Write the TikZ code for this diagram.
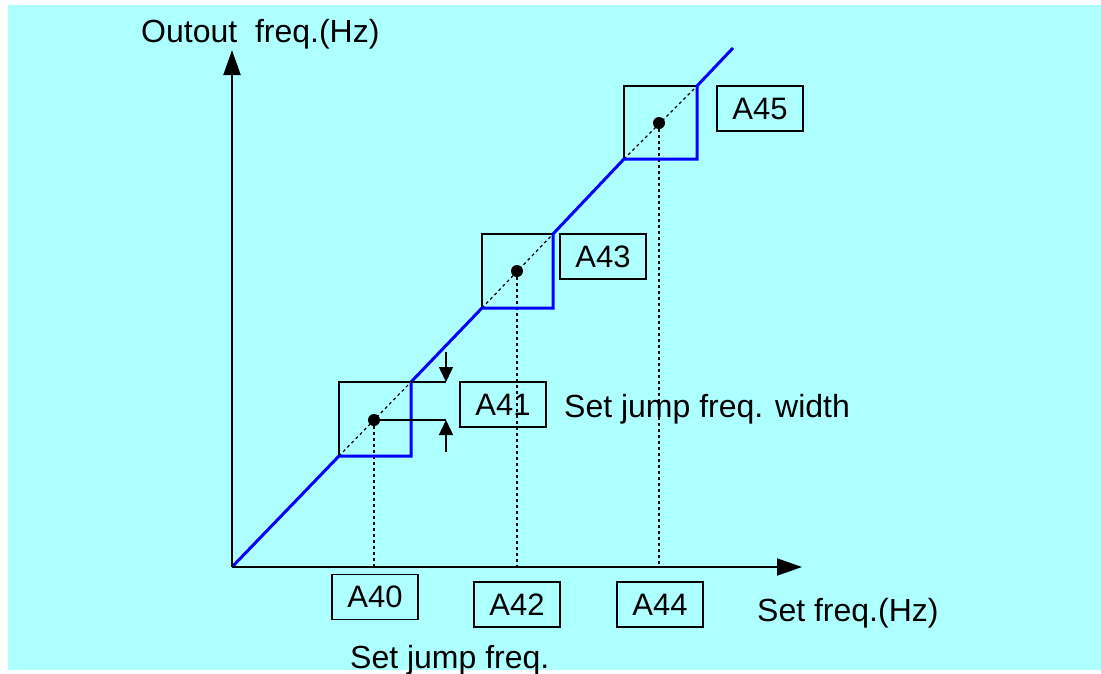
\documentclass[tikz,border=0pt]{standalone}
\usepackage{fontspec}
\setmainfont{Liberation Sans}
\usetikzlibrary{arrows.meta}
\definecolor{bgcyan}{RGB}{174,255,255}
\definecolor{jumpblue}{RGB}{0,0,255}
\begin{document}
\begin{tikzpicture}[x=1pt,y=-1pt,
  axis/.style={line width=2pt,-{Triangle[length=25pt,width=17pt]}},
  curve/.style={line width=3pt,jumpblue,line join=miter},
  jbox/.style={line width=1.5pt},
  guide/.style={line width=1.2pt,dash pattern=on 3pt off 3pt},
  lbl/.style={draw,line width=1.5pt,minimum width=86pt,minimum height=45pt,inner sep=0pt,font=\fontsize{31}{36}\selectfont},
  txt/.style={inner sep=0pt,font=\fontsize{32}{38}\selectfont},
  tick/.style={line width=1.5pt},
  tickarr/.style={line width=1.5pt,-{Triangle[length=15pt,width=14pt]}},
  dot/.style={circle,fill=black,inner sep=0pt,minimum size=12pt}
]
\useasboundingbox (0,0) rectangle (1101,673);
\fill[bgcyan] (8,5) rectangle (1101,670);

% coordinates
\coordinate (O) at (232,567);
\coordinate (ytip) at (232,50);
\coordinate (xtip) at (802,567);
\coordinate (end) at (733,48);

% jump boxes
\draw[jbox] (339,382) rectangle (411,456);
\draw[jbox] (482,234) rectangle (553,308);
\draw[jbox] (624,86) rectangle (697,159);

% dots
\node[dot] (d1) at (374,420) {};
\node[dot] (d2) at (517,271) {};
\node[dot] (d3) at (659,123) {};

% guide lines
\coordinate (g1) at (374,567);
\coordinate (g2) at (517,567);
\coordinate (g3) at (659,567);
\draw[guide] (d1.center) -- (g1);
\draw[guide] (d2.center) -- (g2);
\draw[guide] (d3.center) -- (g3);
\draw[guide] (339,456) -- (411,382);
\draw[guide] (482,308) -- (553,234);
\draw[guide] (624,159) -- (697,86);

% blue output curve
\draw[curve] (O) -- (339,456) -- (411,456) -- (411,382) -- (482,308) -- (553,308) -- (553,234) -- (624,159) -- (697,159) -- (697,86) -- (end);

% axes
\draw[axis] (O) -- (ytip);
\draw[axis] (O) -- (xtip);

% jump width markers
\coordinate (wt) at (446,382);
\coordinate (wb) at (446,420);
\draw[tick] (411,382) -- (wt);
\draw[tick] (d1.center) -- (wb);
\draw[tickarr] (446,352) -- (wt);
\draw[tickarr] (446,452) -- (wb);

% labels
\node[lbl] (A41) at (503,404.5) {A41};
\node[lbl] (A43) at (603,256.5) {A43};
\node[lbl] (A45) at (760,108.5) {A45};
\node[lbl] (A40) at (375,597) {A40};
\node[lbl] (A42) at (517,604.5) {A42};
\node[lbl] (A44) at (660,604.5) {A44};

% texts
\node[txt,anchor=base west] (ylab) at (141,42) {Outout\ \ freq.(Hz)};
\node[txt,anchor=base west] (wlab) at (564,417) {Set jump freq. width};
\node[txt,anchor=base west] (xlab) at (757,621) {Set freq.(Hz)};
\node[txt,anchor=base west] (jlab) at (350,668) {Set jump freq.};
\end{tikzpicture}
\end{document}
